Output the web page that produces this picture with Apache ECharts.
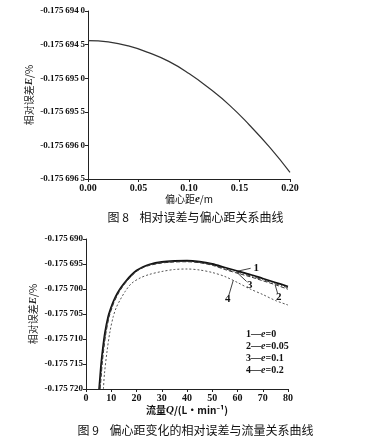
<!DOCTYPE html>
<html><head><meta charset="utf-8">
<script src="https://cdn.jsdelivr.net/npm/echarts@6/dist/echarts.min.js"></script>
<style>html,body{margin:0;padding:0;background:#fff}#c{width:391px;height:442px}</style>
</head><body><div id="c"></div>
<script>
// ---- Figure 8 data: relative error vs eccentricity ----
var eccE = [0, 0.02, 0.04, 0.06, 0.08, 0.10, 0.12, 0.14, 0.16, 0.18, 0.20];
var errVsE = [-0.17569444, -0.17569446, -0.17569452, -0.17569462, -0.17569475, -0.17569493,
              -0.17569515, -0.17569540, -0.17569570, -0.17569603, -0.17569640];
var fig8YTicks = {min: -0.1756965, max: -0.1756940, interval: 0.0000005};
var fig8XTicks = {min: 0, max: 0.2, interval: 0.05};

// ---- Figure 9 data: relative error vs flow for several eccentricities ----
var q1 = [5.2, 5.6, 6.0, 6.6, 7.5, 8.8, 10, 11, 12.5, 14, 16, 18, 20, 22.5, 25, 30, 35, 40, 45, 50, 55, 60, 65, 70, 75, 80];
var e1 = [-0.1757200, -0.1757175, -0.1757150, -0.1757122, -0.1757088, -0.1757055, -0.1757036, -0.1757023,
          -0.1757008, -0.1756996, -0.1756983, -0.1756972, -0.1756963, -0.1756956, -0.1756951, -0.1756946,
          -0.1756944, -0.17569435, -0.17569455, -0.1756950, -0.1756957, -0.1756964, -0.1756971, -0.1756979,
          -0.1756987, -0.1756995];
var q2 = [5.6, 6.0, 6.4, 7.0, 7.9, 9.2, 10.4, 11.4, 12.9, 14.4, 16.4, 18.4, 20.4, 22.5, 25, 30, 35, 40, 45, 50, 55, 60, 65, 70, 75, 80];
var e2 = [-0.1757200, -0.1757175, -0.1757150, -0.1757122, -0.1757088, -0.1757055, -0.1757036, -0.1757023,
          -0.1757008, -0.1756996, -0.1756983, -0.1756972, -0.17569635, -0.17569575, -0.1756953, -0.1756948,
          -0.1756946, -0.17569455, -0.17569475, -0.17569525, -0.1756961, -0.17569685, -0.17569755, -0.17569835,
          -0.17569915, -0.17570005];
var q3 = [5.4, 5.8, 6.2, 6.8, 7.7, 9.0, 10.2, 11.2, 12.7, 14.2, 16.2, 18.2, 20.2, 22.5, 25, 30, 35, 40, 45, 50, 55, 60, 65, 70, 75, 80];
var e3 = [-0.1757200, -0.1757175, -0.1757150, -0.1757122, -0.1757088, -0.1757055, -0.1757036, -0.1757023,
          -0.1757008, -0.1756996, -0.1756983, -0.1756972, -0.17569635, -0.1756957, -0.1756952, -0.1756947,
          -0.1756945, -0.17569445, -0.17569465, -0.1756951, -0.17569595, -0.17569665, -0.17569735, -0.17569815,
          -0.17569895, -0.17569975];
var q4 = [6.9, 7.3, 8.4, 9.5, 10.8, 12, 13.5, 15.5, 18, 21.4, 25, 30, 35, 40, 45, 50, 55, 60, 65, 70, 75, 80];
var e4 = [-0.1757200, -0.1757170, -0.1757122, -0.1757085, -0.1757055, -0.1757037, -0.1757022, -0.1757005,
          -0.1756989, -0.1756978, -0.1756971, -0.1756965, -0.1756961, -0.1756960, -0.1756962, -0.1756967,
          -0.1756975, -0.1756987, -0.1757000, -0.1757011, -0.1757023, -0.1757032];
var seriesNames = ['e=0', 'e=0.05', 'e=0.1', 'e=0.2'];
var legendLines = ['1—{i|e}=0', '2—{i|e}=0.05', '3—{i|e}=0.1', '4—{i|e}=0.2'];
var fig9YTicks = {min: -0.175720, max: -0.175690, interval: 0.000005};
var fig9XTicks = {min: 0, max: 80, interval: 10};
// curve call-out numbers: label anchor and leader line ends (data coordinates)
var callouts = [
  {text: '1', s: 0, at: [67.4, -0.17569586], from: [65.2, -0.17569586], to: [59.9, -0.17569645]},
  {text: '3', s: 2, at: [64.9, -0.1756992], from: [63.6, -0.1756985], to: [59.6, -0.1756966]},
  {text: '2', s: 1, at: [76.3, -0.1757016], from: [75.9, -0.1757009], to: [74.9, -0.17569915]},
  {text: '4', s: 3, at: [56.1, -0.1757020], from: [56.6, -0.1757012], to: [58.3, -0.1756983]}
];

var serif = '"Liberation Serif","Times New Roman",serif';
var cjk = '"Noto Sans CJK SC","Noto Sans",sans-serif';
function pairs(q, e) { return q.map(function (x, i) { return [x, e[i]]; }); }
function axisBase() {
  return {
    axisLine: {show: true, onZero: false, lineStyle: {color: '#222', width: 1}},
    axisTick: {show: true, length: 3, inside: false, lineStyle: {color: '#222'}},
    splitLine: {show: false},
    nameMoveOverlap: false,
    axisLabel: {color: '#111', fontFamily: serif, fontWeight: 'bold', fontSize: 9, margin: 3}
  };
}
function merge(a, b) { for (var k in b) a[k] = b[k]; return a; }

var chart = echarts.init(document.getElementById('c'), null, {renderer: 'canvas'});
var styles = [
  {color: '#111', width: 1.8, type: 'solid'},
  {color: '#333', width: 1, type: [4, 2]},
  {color: '#333', width: 1, type: [5, 2, 1, 2]},
  {color: '#555', width: 1, type: [2, 2]}
];
var fig9Data = [pairs(q1, e1), pairs(q2, e2), pairs(q3, e3), pairs(q4, e4)];

var series = [{
  type: 'line', xAxisIndex: 0, yAxisIndex: 0, showSymbol: false, smooth: true,
  data: pairs(eccE, errVsE), lineStyle: {color: '#333', width: 1.2}, animation: false
}];
fig9Data.forEach(function (d, i) {
  var mine = callouts.filter(function (c) { return c.s === i; });
  series.push({
    name: seriesNames[i], type: 'line', xAxisIndex: 1, yAxisIndex: 1, showSymbol: false, smooth: 0.3,
    data: d, lineStyle: styles[i], animation: false, clip: true,
    markLine: {
      silent: true, symbol: 'none', animation: false,
      lineStyle: {color: '#111', width: 0.8, type: 'solid'}, label: {show: false},
      data: mine.map(function (c) { return [{coord: c.from}, {coord: c.to}]; })
    },
    markPoint: {
      silent: true, symbol: 'circle', symbolSize: 0, animation: false,
      label: {show: true, position: 'inside', color: '#111', fontFamily: serif, fontWeight: 'bold', fontSize: 11,
              formatter: function (p) { return p.name; }},
      data: mine.map(function (c) { return {name: c.text, coord: c.at}; })
    }
  });
});

var option = {
  backgroundColor: '#fff',
  animation: false,
  grid: [
    {left: 88, top: 11, width: 202, height: 168},
    {left: 86, top: 239, width: 202, height: 150}
  ],
  xAxis: [
    merge(axisBase(), {type: 'value', gridIndex: 0, min: fig8XTicks.min, max: fig8XTicks.max, interval: fig8XTicks.interval,
      name: '偏心距{i|e}/m', nameLocation: 'middle', nameGap: 15,
      nameTextStyle: {color: '#111', fontFamily: cjk, fontSize: 10,
        rich: {i: {fontFamily: serif, fontStyle: 'italic', fontWeight: 'bold', fontSize: 11}}},
      axisLabel: merge(axisBase().axisLabel, {fontSize: 10, margin: 4, formatter: function (v) { return v.toFixed(2); }})}),
    merge(axisBase(), {type: 'value', gridIndex: 1, min: fig9XTicks.min, max: fig9XTicks.max, interval: fig9XTicks.interval,
      name: '流量{i|Q}/(L·min⁻¹)', nameLocation: 'middle', nameGap: 16,
      nameTextStyle: {color: '#111', fontFamily: cjk, fontSize: 10, fontWeight: 'bold',
        rich: {i: {fontFamily: serif, fontStyle: 'italic', fontWeight: 'bold', fontSize: 11}}},
      axisLabel: merge(axisBase().axisLabel, {fontSize: 10, margin: 4})})
  ],
  yAxis: [
    merge(axisBase(), {type: 'value', gridIndex: 0, min: fig8YTicks.min, max: fig8YTicks.max, interval: fig8YTicks.interval,
      name: '相对误差{i|E}/%', nameLocation: 'middle', nameGap: 53, nameRotate: 90,
      nameTextStyle: {color: '#222', fontFamily: cjk, fontSize: 10,
        rich: {i: {fontFamily: serif, fontStyle: 'italic', fontWeight: 'bold', fontSize: 11}}},
      axisLabel: merge(axisBase().axisLabel, {formatter: function (v) {
        var s = v.toFixed(7); return s.slice(0, 6) + '\u2009' + s.slice(6, 9) + '\u2009' + s.slice(9); }})}),
    merge(axisBase(), {type: 'value', gridIndex: 1, min: fig9YTicks.min, max: fig9YTicks.max, interval: fig9YTicks.interval,
      name: '相对误差{i|E}/%', nameLocation: 'middle', nameGap: 47, nameRotate: 90,
      nameTextStyle: {color: '#222', fontFamily: cjk, fontSize: 10,
        rich: {i: {fontFamily: serif, fontStyle: 'italic', fontWeight: 'bold', fontSize: 11}}},
      axisLabel: merge(axisBase().axisLabel, {formatter: function (v) {
        var s = v.toFixed(6); return s.slice(0, 6) + '\u2009' + s.slice(6); }})})
  ],
  graphic: [
    {type: 'text', left: 'center', top: 211, style: {text: '图 8    相对误差与偏心距关系曲线',
      font: '12px ' + cjk, fill: '#111'}},
    {type: 'text', left: 'center', top: 424, style: {text: '图 9    偏心距变化的相对误差与流量关系曲线',
      font: '12px ' + cjk, fill: '#111'}},
    {type: 'group', left: 246, top: 329, children: legendLines.map(function (t, i) {
      return {type: 'text', top: i * 12.2, style: {text: t, fill: '#111',
        font: 'bold 10px ' + serif,
        rich: {i: {fontFamily: serif, fontStyle: 'italic', fontWeight: 'bold', fontSize: 10}}}};
    })}
  ],
  series: series
};
chart.setOption(option);
</script></body></html>
